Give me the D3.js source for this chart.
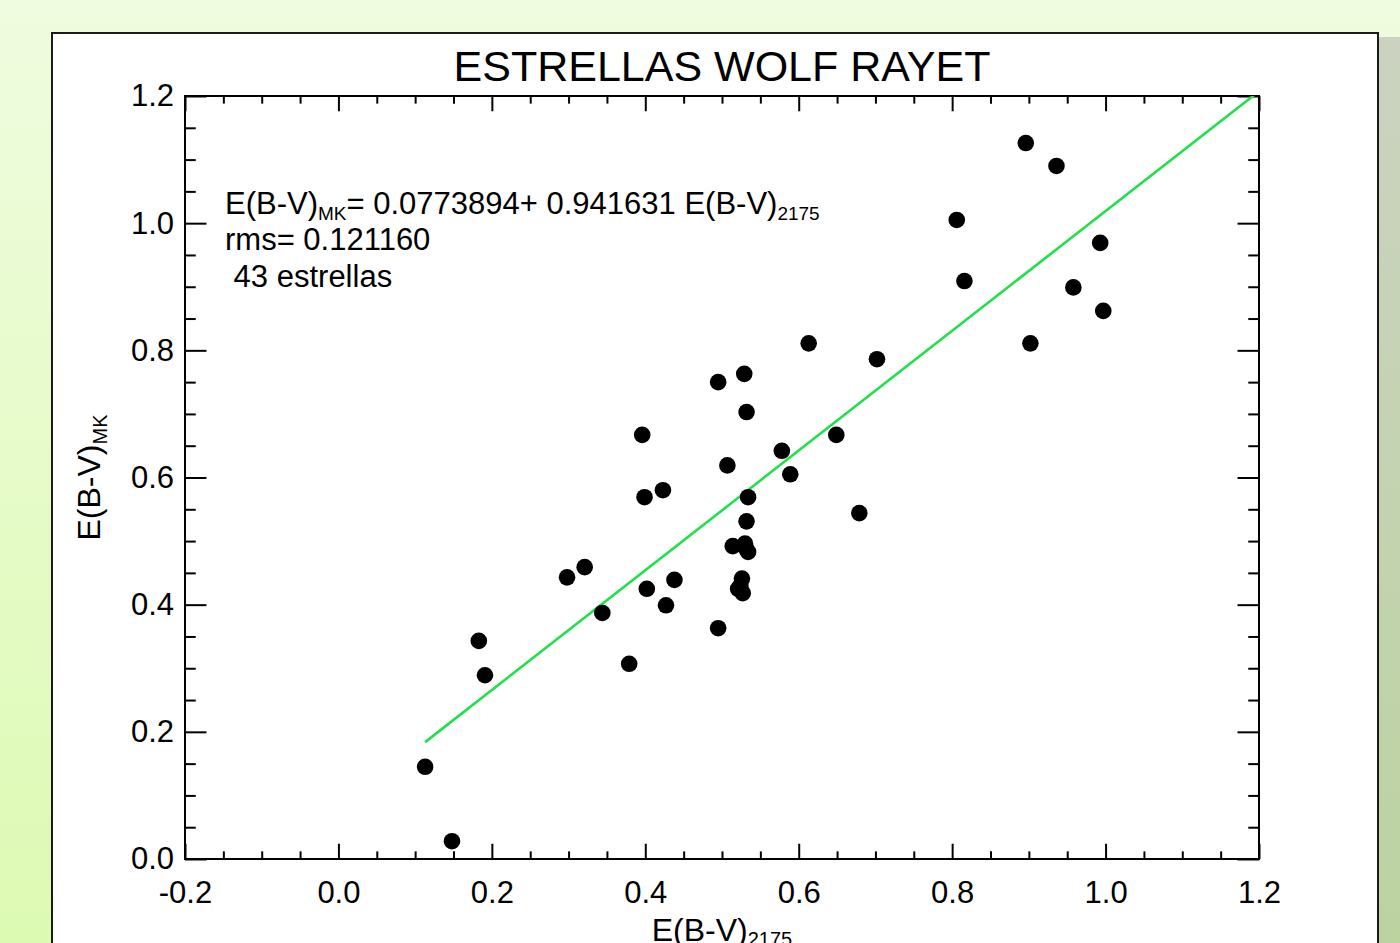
<!DOCTYPE html>
<html>
<head>
  <meta charset="utf-8">
  <title>Estrellas Wolf Rayet</title>
  <script src="https://cdn.jsdelivr.net/npm/d3@7"></script>
  <style>
    body { margin: 0; overflow: hidden; }
    svg text { font-family: "Liberation Sans", Arial, Helvetica, sans-serif; fill: #000; }
  </style>
</head>
<body>
<svg id="chart" width="1400" height="943"></svg>

<script>
// E(B-V)_2175 (x) and E(B-V)_MK (y) for the 43 stars
var ebv2175 = [0.896, 0.936, 0.806, 0.993, 0.816, 0.958, 0.997, 0.902, 0.613, 0.702,
  0.529, 0.495, 0.532, 0.396, 0.649, 0.578, 0.507, 0.589, 0.423, 0.399,
  0.534, 0.532, 0.679, 0.514, 0.530, 0.534, 0.321, 0.298, 0.438, 0.526,
  0.402, 0.521, 0.527, 0.427, 0.344, 0.495, 0.379, 0.183, 0.191, 0.113,
  0.148, 0.531, 0.524];
var ebvMK = [1.126, 1.090, 1.005, 0.969, 0.909, 0.899, 0.862, 0.811, 0.811, 0.786,
  0.763, 0.750, 0.703, 0.667, 0.667, 0.642, 0.619, 0.605, 0.580, 0.569,
  0.569, 0.531, 0.544, 0.492, 0.496, 0.483, 0.459, 0.443, 0.439, 0.441,
  0.425, 0.425, 0.418, 0.399, 0.387, 0.363, 0.307, 0.343, 0.289, 0.145,
  0.028, 0.489, 0.430];

// linear fit printed on the plot
var fitA = 0.0773894, fitB = 0.941631;
var rms = '0.121160';

var xMajor = [-0.2, 0.0, 0.2, 0.4, 0.6, 0.8, 1.0, 1.2];
var yMajor = [0.0, 0.2, 0.4, 0.6, 0.8, 1.0, 1.2];

var svg = d3.select('#chart'),
  margin = { top: 96, right: 141, bottom: 84, left: 185 },
  width = +svg.attr('width') - margin.left - margin.right,
  height = +svg.attr('height') - margin.top - margin.bottom;

// page background and white panel
var defs = svg.append('defs');
var bg = defs.append('linearGradient').attr('id', 'bg').attr('x1', 0).attr('y1', 0).attr('x2', 0).attr('y2', 1);
bg.append('stop').attr('offset', '0%').attr('stop-color', '#effcdf');
bg.append('stop').attr('offset', '100%').attr('stop-color', '#ddfab3');
var strip = defs.append('linearGradient').attr('id', 'strip').attr('x1', 0).attr('y1', 0).attr('x2', 0).attr('y2', 1);
strip.append('stop').attr('offset', '0%').attr('stop-color', '#cbd3c0');
strip.append('stop').attr('offset', '100%').attr('stop-color', '#bcd3a0');
defs.append('clipPath').attr('id', 'plotclip')
  .append('rect').attr('width', width).attr('height', height);

svg.append('rect').attr('width', 1400).attr('height', 943).attr('fill', 'url(#bg)');
svg.append('rect').attr('x', 1379).attr('y', 37).attr('width', 21).attr('height', 906).attr('fill', 'url(#strip)');
svg.append('rect').attr('x', 52).attr('y', 33).attr('width', 1326).attr('height', 930)
  .attr('fill', '#fff').attr('stroke', '#1a1a1a').attr('stroke-width', 2);

var g = svg.append('g').attr('transform', 'translate(' + margin.left + ',' + margin.top + ')');

var x = d3.scaleLinear().domain([-0.2, 1.2]).range([0, width]);
var y = d3.scaleLinear().domain([0, 1.2]).range([height, 0]);

var fmt = d => d.toFixed(1);
var minorOf = (lo, hi, majors) => d3.range(Math.round(lo * 20), Math.round(hi * 20) + 1)
  .map(i => i / 20).filter(v => !majors.some(m => Math.abs(m - v) < 1e-9));
var xMinor = minorOf(-0.2, 1.2, xMajor);
var yMinor = minorOf(0, 1.2, yMajor);

var xLen = 0.02 * height, yLen = 0.02 * width;

function styleAxis(sel) {
  sel.select('.domain').remove();
  sel.selectAll('line').attr('stroke', '#000').attr('stroke-width', 2);
  sel.selectAll('text').style('font-size', '31px');
}

// bottom axis
g.append('g').attr('transform', 'translate(0,' + height + ')')
  .call(d3.axisBottom(x).tickValues(xMajor).tickFormat(fmt).tickSizeInner(-xLen).tickSizeOuter(0).tickPadding(22))
  .call(styleAxis);
g.append('g').attr('transform', 'translate(0,' + height + ')')
  .call(d3.axisBottom(x).tickValues(xMinor).tickFormat('').tickSizeInner(-xLen / 2).tickSizeOuter(0))
  .call(styleAxis);
// top axis
g.append('g')
  .call(d3.axisTop(x).tickValues(xMajor).tickFormat('').tickSizeInner(-xLen).tickSizeOuter(0))
  .call(styleAxis);
g.append('g')
  .call(d3.axisTop(x).tickValues(xMinor).tickFormat('').tickSizeInner(-xLen / 2).tickSizeOuter(0))
  .call(styleAxis);
// left axis
g.append('g')
  .call(d3.axisLeft(y).tickValues(yMajor).tickFormat(fmt).tickSizeInner(-yLen).tickSizeOuter(0).tickPadding(11))
  .call(styleAxis);
g.append('g')
  .call(d3.axisLeft(y).tickValues(yMinor).tickFormat('').tickSizeInner(-yLen / 2).tickSizeOuter(0))
  .call(styleAxis);
// right axis
g.append('g').attr('transform', 'translate(' + width + ',0)')
  .call(d3.axisRight(y).tickValues(yMajor).tickFormat('').tickSizeInner(-yLen).tickSizeOuter(0))
  .call(styleAxis);
g.append('g').attr('transform', 'translate(' + width + ',0)')
  .call(d3.axisRight(y).tickValues(yMinor).tickFormat('').tickSizeInner(-yLen / 2).tickSizeOuter(0))
  .call(styleAxis);

// plot frame
g.append('rect').attr('width', width).attr('height', height)
  .attr('fill', 'none').attr('stroke', '#000').attr('stroke-width', 2);

// fit line, from the smallest x to the right edge
var xLo = d3.min(ebv2175);
g.append('path')
  .datum([xLo, 1.2])
  .attr('clip-path', 'url(#plotclip)')
  .attr('fill', 'none')
  .attr('stroke', '#22e04c')
  .attr('stroke-width', 2.6)
  .attr('d', d3.line().x(d => x(d)).y(d => y(fitA + fitB * d)));

// points
g.selectAll('circle.star')
  .data(d3.zip(ebv2175, ebvMK))
  .enter().append('circle')
  .attr('class', 'star')
  .attr('cx', d => x(d[0]))
  .attr('cy', d => y(d[1]))
  .attr('r', 8.3)
  .attr('fill', '#000');

// title
svg.append('text')
  .attr('x', margin.left + width / 2)
  .attr('y', 81)
  .attr('text-anchor', 'middle')
  .style('font-size', '43px')
  .text('ESTRELLAS WOLF RAYET');

// fit annotation
var ann = svg.append('g').style('font-size', '31px');
var t1 = ann.append('text').attr('x', 225).attr('y', 214);
t1.append('tspan').text('E(B-V)');
t1.append('tspan').attr('dy', 6).style('font-size', '19px').text('MK');
t1.append('tspan').attr('dy', -6).text('= ' + fitA + '+ ' + fitB + ' E(B-V)');
t1.append('tspan').attr('dy', 6).style('font-size', '19px').text('2175');
ann.append('text').attr('x', 225).attr('y', 250).text('rms= ' + rms);
ann.append('text').attr('x', 225).attr('y', 287).attr('xml:space', 'preserve').text(' ' + ebv2175.length + ' estrellas');

// axis titles
var xt = svg.append('text')
  .attr('x', margin.left + width / 2)
  .attr('y', 941)
  .attr('text-anchor', 'middle')
  .style('font-size', '32px');
xt.append('tspan').text('E(B-V)');
xt.append('tspan').attr('dy', 5).style('font-size', '20px').text('2175');

var yt = svg.append('text')
  .attr('transform', 'translate(100,' + (margin.top + height / 2) + ') rotate(-90)')
  .attr('text-anchor', 'middle')
  .style('font-size', '32px');
yt.append('tspan').text('E(B-V)');
yt.append('tspan').attr('dy', 7).style('font-size', '20px').text('MK');
</script>
</body>
</html>
